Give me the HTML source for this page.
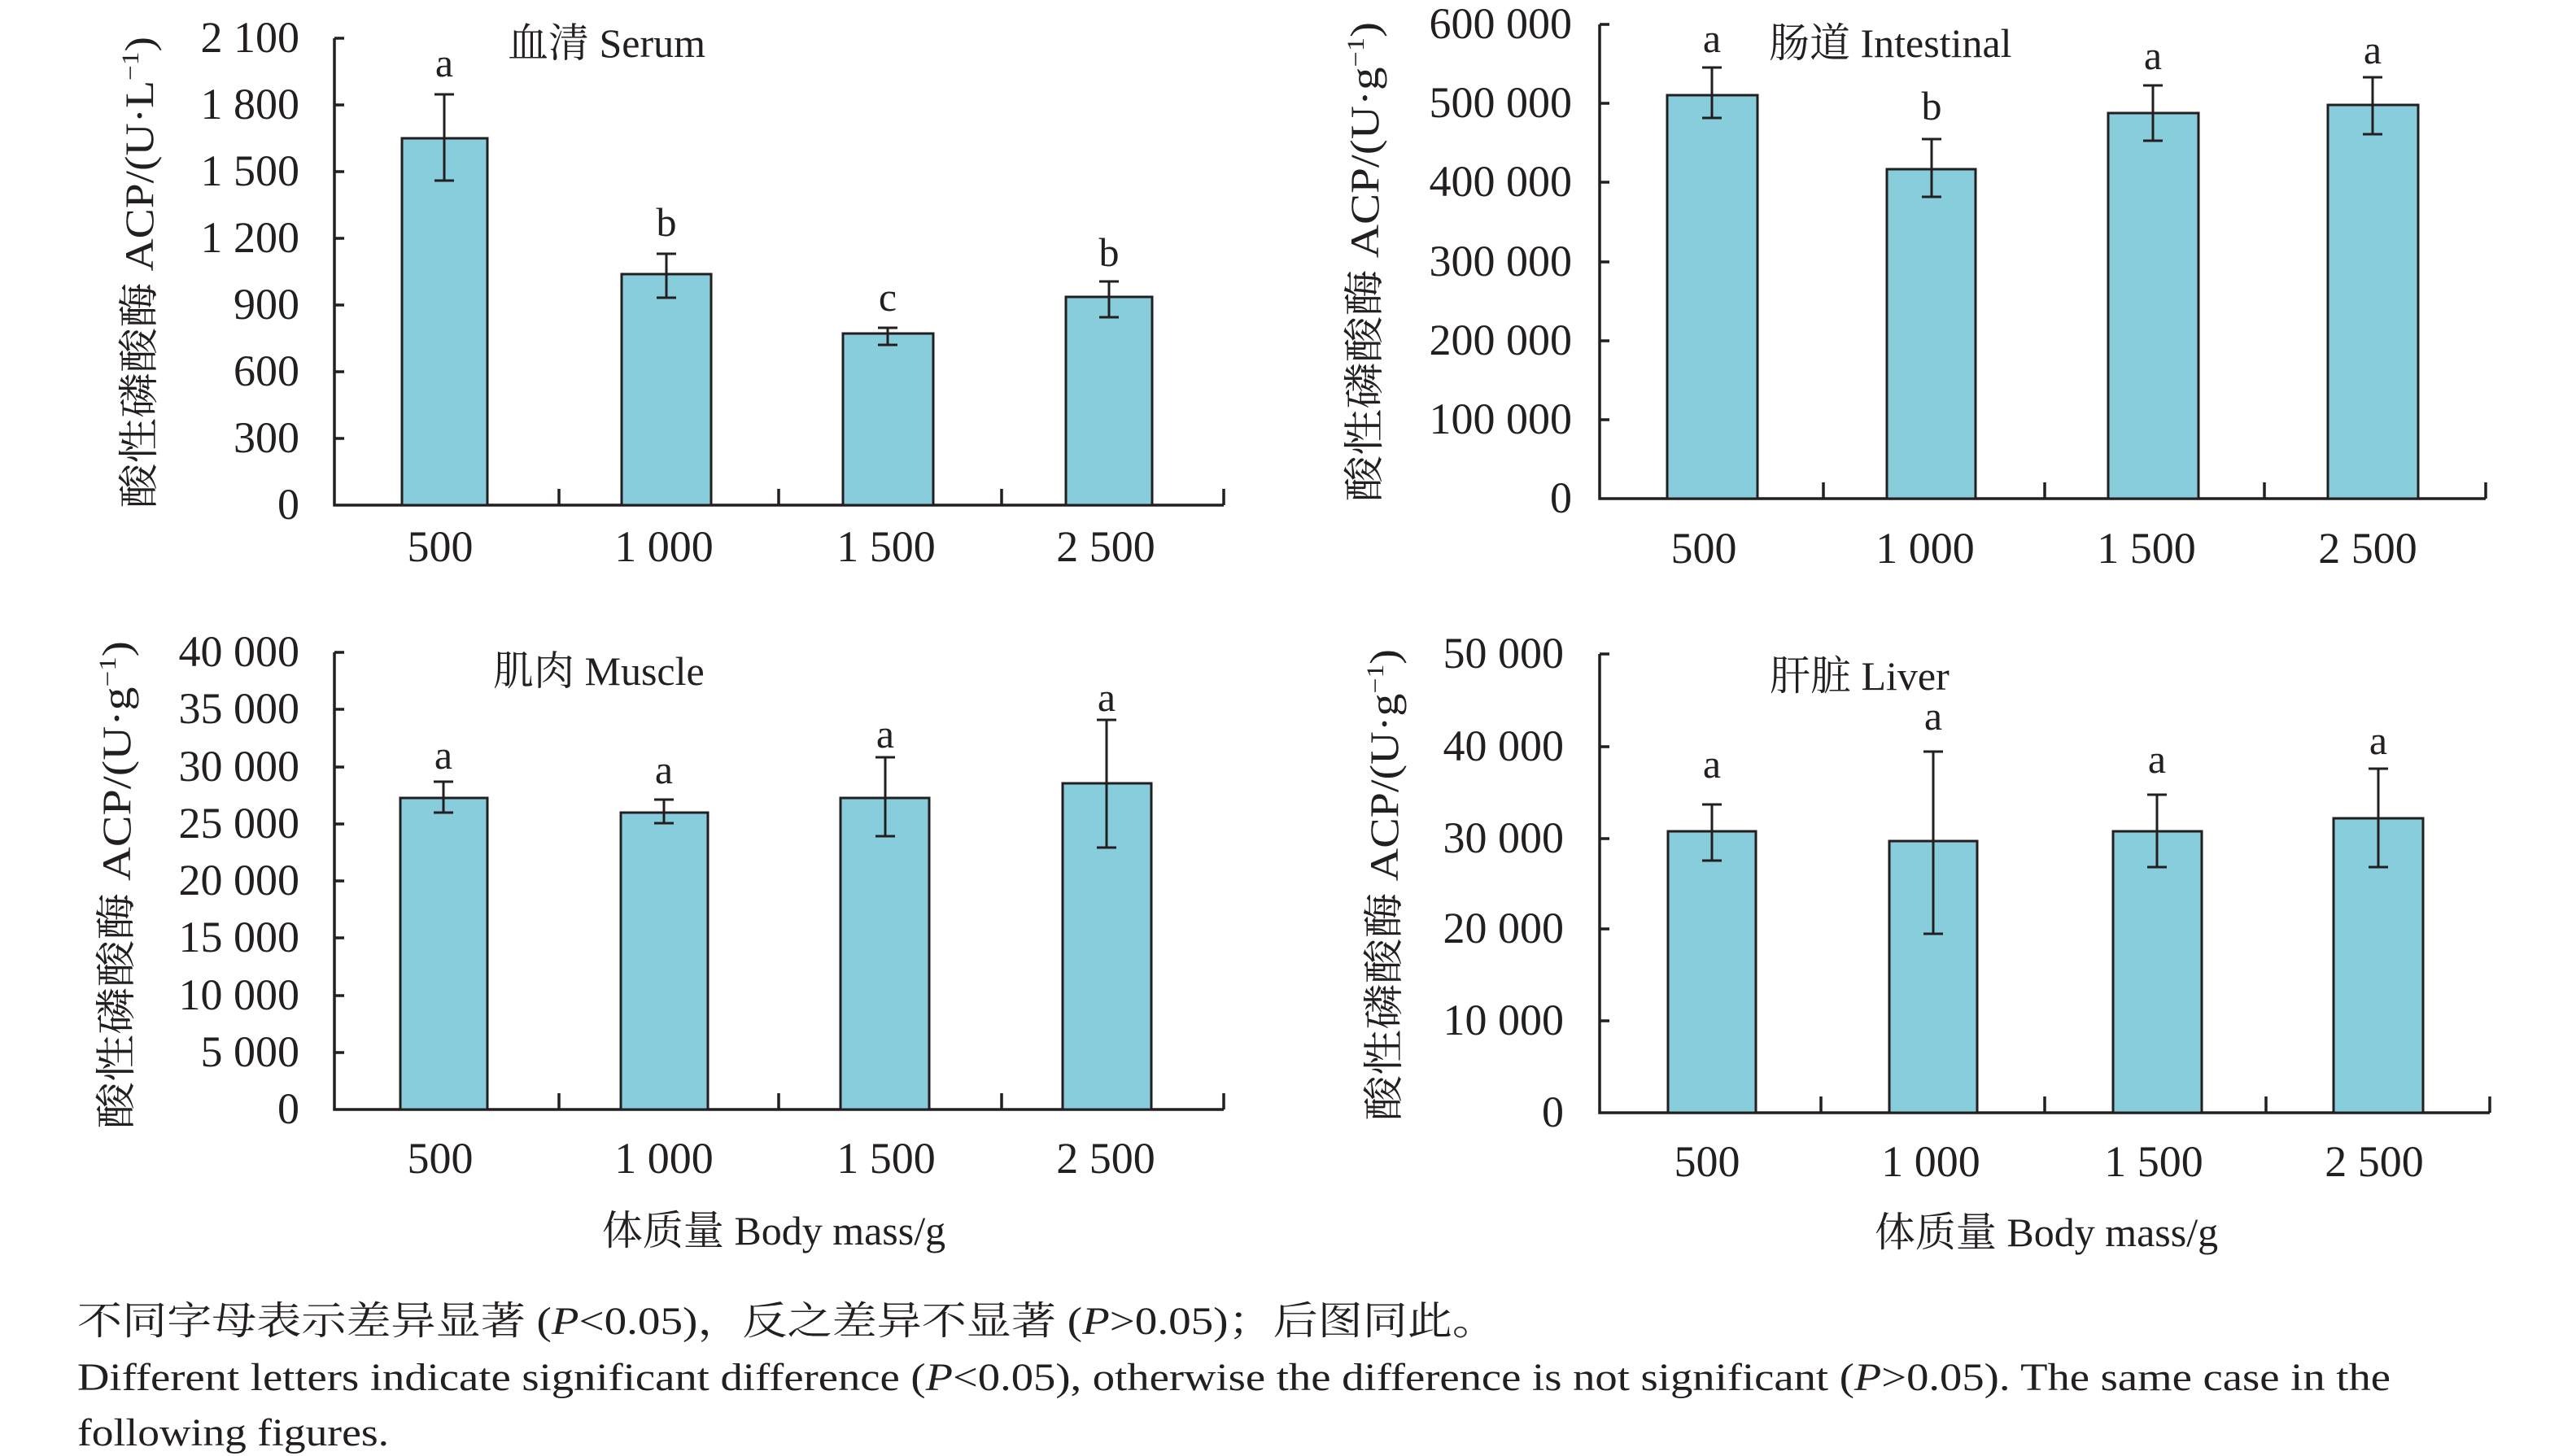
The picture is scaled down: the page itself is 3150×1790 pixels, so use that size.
<!DOCTYPE html>
<html><head><meta charset="utf-8"><style>
html,body{margin:0;padding:0;background:#fff}
svg{display:block}
text{font-family:"Liberation Serif","Noto Serif CJK SC",serif;fill:#231f20}
.t{font-size:50px}
.k{font-size:54px}
.bar{fill:#87cddb;stroke:#231f20;stroke-width:3}
.ax{stroke:#231f20;stroke-width:3.5;fill:none}
.e{stroke:#231f20;stroke-width:3;fill:none}
</style></head><body>
<svg width="3150" height="1790" viewBox="0 0 3150 1790" xmlns="http://www.w3.org/2000/svg">

<!-- ===== Serum ===== -->
<g>
<path class="ax" d="M411 47V621H1504M411 47h12M411 129h12M411 211h12M411 293h12M411 375h12M411 457h12M411 539h12M687 621v-20M957 621v-20M1231 621v-20M1504 621v-20"/>
<g class="k" text-anchor="end">
<text x="368" y="64">2 100</text><text x="368" y="146">1 800</text><text x="368" y="228">1 500</text><text x="368" y="310">1 200</text><text x="368" y="392">900</text><text x="368" y="474">600</text><text x="368" y="556">300</text><text x="368" y="638">0</text>
</g>
<rect class="bar" x="494" y="170" width="105" height="451"/>
<rect class="bar" x="764" y="337" width="110" height="284"/>
<rect class="bar" x="1036" y="410" width="111" height="211"/>
<rect class="bar" x="1310" y="365" width="106" height="256"/>
<path class="e" d="M546 116V222M534 116h24M534 222h24M819 312V366M807 312h24M807 366h24M1091 403V424M1079 403h24M1079 424h24M1363 346V390M1351 346h24M1351 390h24"/>
<g class="t" text-anchor="middle">
<text x="546" y="94">a</text><text x="819" y="290">b</text><text x="1091" y="382">c</text><text x="1363" y="327">b</text>
</g>
<g class="k" text-anchor="middle">
<text x="541" y="690">500</text><text x="816" y="690">1 000</text><text x="1089" y="690">1 500</text><text x="1359" y="690">2 500</text>
</g>
<text class="t" x="624" y="70">血清 Serum</text>
<text class="t" transform="translate(188,335) rotate(-90)" text-anchor="middle" textLength="580" lengthAdjust="spacingAndGlyphs">酸性磷酸酶 ACP/(U·L<tspan font-size="30" dy="-18">−1</tspan><tspan dy="18">)</tspan></text>
</g>

<!-- ===== Intestinal ===== -->
<g>
<path class="ax" d="M1966 30V613H3055M1966 30h12M1966 127h12M1966 224h12M1966 322h12M1966 419h12M1966 516h12M2241 613v-20M2513 613v-20M2783 613v-20M3055 613v-20"/>
<g class="k" text-anchor="end">
<text x="1932" y="47">600 000</text><text x="1932" y="144">500 000</text><text x="1932" y="241">400 000</text><text x="1932" y="339">300 000</text><text x="1932" y="436">200 000</text><text x="1932" y="533">100 000</text><text x="1932" y="630">0</text>
</g>
<rect class="bar" x="2049" y="117" width="111" height="496"/>
<rect class="bar" x="2319" y="208" width="109" height="405"/>
<rect class="bar" x="2591" y="139" width="111" height="474"/>
<rect class="bar" x="2861" y="129" width="111" height="484"/>
<path class="e" d="M2104 83V145M2092 83h24M2092 145h24M2374 171V242M2362 171h24M2362 242h24M2646 105V173M2634 105h24M2634 173h24M2916 95V165M2904 95h24M2904 165h24"/>
<g class="t" text-anchor="middle">
<text x="2104" y="64">a</text><text x="2374" y="147">b</text><text x="2646" y="85">a</text><text x="2916" y="78">a</text>
</g>
<g class="k" text-anchor="middle">
<text x="2094" y="692">500</text><text x="2366" y="692">1 000</text><text x="2638" y="692">1 500</text><text x="2910" y="692">2 500</text>
</g>
<text class="t" x="2174" y="70">肠道 Intestinal</text>
<text class="t" transform="translate(1694,322) rotate(-90)" text-anchor="middle" textLength="590" lengthAdjust="spacingAndGlyphs">酸性磷酸酶 ACP/(U·g<tspan font-size="30" dy="-18">−1</tspan><tspan dy="18">)</tspan></text>
</g>

<!-- ===== Muscle ===== -->
<g>
<path class="ax" d="M411 802V1364H1504M411 802h12M411 872h12M411 943h12M411 1013h12M411 1083h12M411 1153h12M411 1224h12M411 1294h12M687 1364v-20M957 1364v-20M1231 1364v-20M1504 1364v-20"/>
<g class="k" text-anchor="end">
<text x="368" y="819">40 000</text><text x="368" y="889">35 000</text><text x="368" y="960">30 000</text><text x="368" y="1030">25 000</text><text x="368" y="1100">20 000</text><text x="368" y="1170">15 000</text><text x="368" y="1241">10 000</text><text x="368" y="1311">5 000</text><text x="368" y="1381">0</text>
</g>
<rect class="bar" x="492" y="981" width="107" height="383"/>
<rect class="bar" x="763" y="999" width="107" height="365"/>
<rect class="bar" x="1033" y="981" width="109" height="383"/>
<rect class="bar" x="1306" y="963" width="109" height="401"/>
<path class="e" d="M545 961V999M533 961h24M533 999h24M816 983V1012M804 983h24M804 1012h24M1088 931V1028M1076 931h24M1076 1028h24M1360 885V1042M1348 885h24M1348 1042h24"/>
<g class="t" text-anchor="middle">
<text x="545" y="945">a</text><text x="816" y="963">a</text><text x="1088" y="919">a</text><text x="1360" y="874">a</text>
<text x="951" y="1530">体质量 Body mass/g</text>
</g>
<g class="k" text-anchor="middle">
<text x="541" y="1442">500</text><text x="816" y="1442">1 000</text><text x="1089" y="1442">1 500</text><text x="1359" y="1442">2 500</text>
</g>
<text class="t" x="606" y="842">肌肉 Muscle</text>
<text class="t" transform="translate(160,1088) rotate(-90)" text-anchor="middle" textLength="600" lengthAdjust="spacingAndGlyphs">酸性磷酸酶 ACP/(U·g<tspan font-size="30" dy="-18">−1</tspan><tspan dy="18">)</tspan></text>
</g>

<!-- ===== Liver ===== -->
<g>
<path class="ax" d="M1966 804V1368H3060M1966 804h12M1966 918h12M1966 1031h12M1966 1142h12M1966 1255h12M2238 1368v-20M2513 1368v-20M2785 1368v-20M3060 1368v-20"/>
<g class="k" text-anchor="end">
<text x="1922" y="821">50 000</text><text x="1922" y="935">40 000</text><text x="1922" y="1048">30 000</text><text x="1922" y="1159">20 000</text><text x="1922" y="1272">10 000</text><text x="1922" y="1385">0</text>
</g>
<rect class="bar" x="2050" y="1022" width="108" height="346"/>
<rect class="bar" x="2322" y="1034" width="108" height="334"/>
<rect class="bar" x="2597" y="1022" width="109" height="346"/>
<rect class="bar" x="2868" y="1006" width="110" height="362"/>
<path class="e" d="M2104 989V1058M2092 989h24M2092 1058h24M2376 924V1148M2364 924h24M2364 1148h24M2651 977V1066M2639 977h24M2639 1066h24M2923 945V1066M2911 945h24M2911 1066h24"/>
<g class="t" text-anchor="middle">
<text x="2104" y="956">a</text><text x="2376" y="897">a</text><text x="2651" y="950">a</text><text x="2923" y="927">a</text>
<text x="2515" y="1532">体质量 Body mass/g</text>
</g>
<g class="k" text-anchor="middle">
<text x="2098" y="1446">500</text><text x="2373" y="1446">1 000</text><text x="2647" y="1446">1 500</text><text x="2918" y="1446">2 500</text>
</g>
<text class="t" x="2175" y="848">肝脏 Liver</text>
<text class="t" transform="translate(1718,1088) rotate(-90)" text-anchor="middle" textLength="580" lengthAdjust="spacingAndGlyphs">酸性磷酸酶 ACP/(U·g<tspan font-size="30" dy="-18">−1</tspan><tspan dy="18">)</tspan></text>
</g>

<!-- ===== Footer ===== -->
<g style="font-size:48px">
<text x="95" y="1640" textLength="1745" lengthAdjust="spacingAndGlyphs">不同字母表示差异显著 (<tspan font-style="italic">P</tspan>&lt;0.05)，反之差异不显著 (<tspan font-style="italic">P</tspan>&gt;0.05)；后图同此。</text>
<text x="95" y="1709" textLength="2843" lengthAdjust="spacingAndGlyphs">Different letters indicate significant difference (<tspan font-style="italic">P</tspan>&lt;0.05), otherwise the difference is not significant (<tspan font-style="italic">P</tspan>&gt;0.05). The same case in the</text>
<text x="95" y="1777" textLength="383" lengthAdjust="spacingAndGlyphs">following figures.</text>
</g>
</svg>
</body></html>
